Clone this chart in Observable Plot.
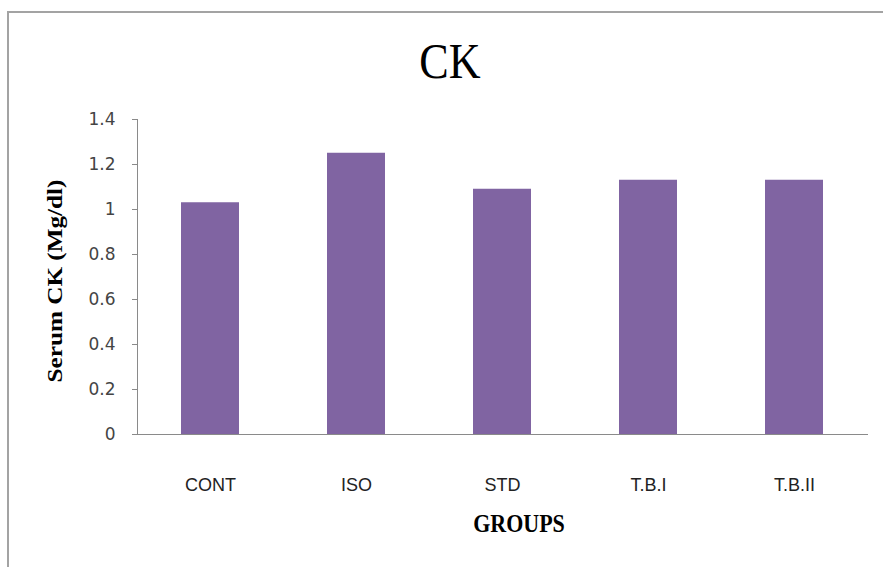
<!DOCTYPE html>
<html><head><meta charset="utf-8">
<script src="https://cdn.jsdelivr.net/npm/d3@7"></script>
<script src="https://cdn.jsdelivr.net/npm/@observablehq/plot@0.6"></script>
<style>
body{margin:0;background:#fff;}
#wrap{position:relative;width:883px;height:567px;overflow:hidden;background:#fff;}
#border{position:absolute;left:7px;top:11px;width:900px;height:600px;border-left:2px solid #a3a3a3;border-top:2px solid #a3a3a3;box-sizing:border-box;}
#chart{position:absolute;left:0;top:0;}
#overlay{position:absolute;left:0;top:0;pointer-events:none;}
</style>
</head><body>
<div id="wrap"><div id="border"></div><div id="chart"></div>
<svg id="overlay" width="883" height="567"></svg></div>
<script>
const groups = ["CONT", "ISO", "STD", "T.B.I", "T.B.II"];
const values = [1.03, 1.25, 1.09, 1.13, 1.13];
const yTicks = [0, 0.2, 0.4, 0.6, 0.8, 1, 1.2, 1.4];
const yTickLabels = ["0", "0.2", "0.4", "0.6", "0.8", "1", "1.2", "1.4"];
const titleText = "CK";
const yLabel = "Serum CK (Mg/dl)";
const xLabel = "GROUPS";

const data = groups.map((g, i) => ({group: g, value: values[i]}));

const chart = Plot.plot({
  width: 883,
  height: 567,
  marginLeft: 137,
  marginRight: 15,
  marginTop: 119,
  marginBottom: 133,
  style: {background: "transparent", overflow: "visible"},
  x: {domain: groups, paddingInner: 0.6, paddingOuter: 0.3, axis: null},
  y: {domain: [0, 1.4], axis: null},
  marks: [
    Plot.barY(data, {x: "group", y: "value", fill: "#8064A2"}),
    Plot.axisY({ticks: yTicks, tickFormat: d => yTickLabels[yTicks.indexOf(d)], tickSize: 5, tickPadding: 17,
      stroke: "#8a8a8a", fill: "#444", fontSize: 17, fontFamily: "DejaVu Sans", label: null}),
    Plot.axisX({tickSize: 0, tickPadding: 44, fill: "#222", fontSize: 18,
      fontFamily: "'Liberation Sans Narrow', 'Liberation Sans', sans-serif", label: null}),
    Plot.ruleY([0], {stroke: "#8a8a8a"}),
    Plot.frame({anchor: "left", stroke: "#8a8a8a"})
  ]
});
document.getElementById("chart").appendChild(chart);

const ov = d3.select("#overlay");
ov.append("text").attr("transform", "translate(450,78) scale(0.92,1.05)").attr("text-anchor", "middle")
  .attr("font-family", "Liberation Serif").attr("font-size", 48).attr("fill", "#000").text(titleText);
ov.append("text").attr("transform", "translate(55,281) rotate(-90) scale(1.2,1)")
  .attr("text-anchor", "middle").attr("dominant-baseline", "central")
  .attr("font-family", "Liberation Serif").attr("font-weight", "bold").attr("font-size", 21).attr("fill", "#000").text(yLabel);
ov.append("text").attr("transform", "translate(519,532) scale(1,1.15)")
  .attr("text-anchor", "middle")
  .attr("font-family", "Liberation Serif").attr("font-weight", "bold").attr("font-size", 22).attr("fill", "#000").text(xLabel);
</script>
</body></html>
